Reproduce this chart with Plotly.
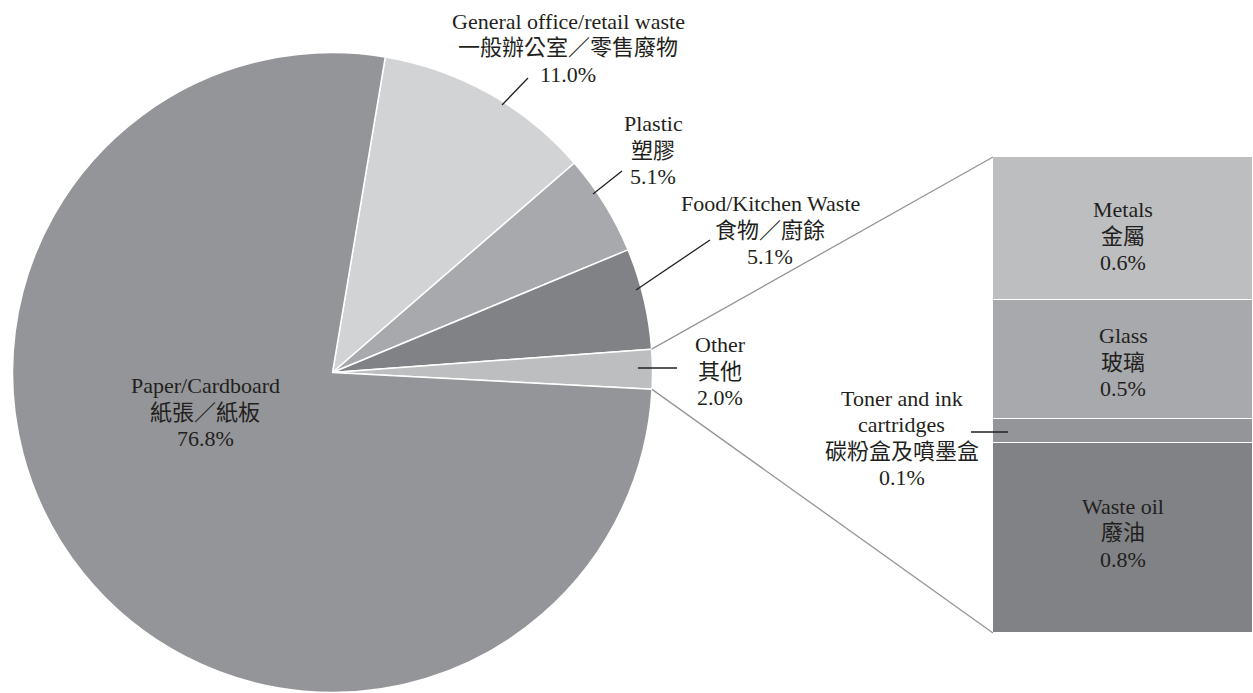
import math
import plotly.graph_objects as go

# ---------------- data ----------------
pie_en = ["General office/retail waste", "Plastic", "Food/Kitchen Waste", "Other", "Paper/Cardboard"]
pie_zh = ["一般辦公室／零售廢物", "塑膠", "食物／廚餘", "其他", "紙張／紙板"]
pie_values = [11.0, 5.1, 5.1, 2.0, 76.8]
pie_colors = ["#d1d3d4", "#a7a9ac", "#808285", "#bcbec0", "#939598"]

# "Other" breakdown, bottom to top
bar_en = ["Waste oil", "Toner and ink|cartridges", "Glass", "Metals"]
bar_zh = ["廢油", "碳粉盒及噴墨盒", "玻璃", "金屬"]
bar_values = [0.8, 0.1, 0.5, 0.6]
bar_colors = ["#808285", "#939598", "#a7a9ac", "#bcbec0"]

# ---------------- layout constants ----------------
OFF = 0                       # page body margin (removed via post_script)
W, H = 1253, 693
FONT = "Liberation Serif, 'Times New Roman', 'Noto Sans CJK TC', serif"
TXT = "#231f20"
FS = 22
LH = 26.5                      # line spacing in px
ROT = 9.5                      # start angle of first slice (deg clockwise from 12 o'clock)
CX, CY, R = 332.5, 372.5, 320  # pie centre/radius in window pixels
BAR_LEFT, BAR_TOP, BAR_BOT = 993, 157, 633
BAR_LABEL_DY = [-5, 0, 3, 8]   # vertical nudge (px, downward) of in-bar labels


def px(x):
    return (x - OFF) / W


def py(y):
    return 1 - (y - OFF) / H


fig = go.Figure()

fig.add_trace(go.Pie(
    values=pie_values,
    labels=pie_en,
    sort=False,
    direction="clockwise",
    rotation=ROT,
    marker=dict(colors=pie_colors, line=dict(color="white", width=1.5)),
    textinfo="none",
    textposition="none",
    hoverinfo="label+percent",
    domain=dict(x=[px(CX - R), px(CX + R)], y=[max(0, py(CY + R)), py(CY - R)]),
    showlegend=False,
))

for v, c, n in zip(bar_values, bar_colors, bar_en):
    fig.add_trace(go.Bar(
        x=[0], y=[v], width=1, name=n.replace("|", " "),
        marker=dict(color=c, line=dict(color="white", width=1.5)),
        xaxis="x", yaxis="y", showlegend=False,
    ))

total_other = sum(bar_values)

# ---------------- annotations (one per line for exact spacing) ----------------
annotations = []


def add_label(lines, x, y, xref="paper", yref="paper", dy=0):
    n = len(lines)
    for i, t in enumerate(lines):
        annotations.append(dict(
            x=x, y=y, xref=xref, yref=yref, text=t, showarrow=False,
            xanchor="center", yanchor="middle",
            yshift=-(i - (n - 1) / 2) * LH - dy,
            font=dict(family=FONT, size=FS, color=TXT)))


pie_label_pos = [(568, 48), (653, 150), (770, 230), (720, 371), (205, 412)]
for en, zh, v, (x, y) in zip(pie_en, pie_zh, pie_values, pie_label_pos):
    add_label(en.split("|") + [zh, f"{v:.1f}%"], px(x), py(y))

cum = 0
for en, zh, v, dy in zip(bar_en, bar_zh, bar_values, BAR_LABEL_DY):
    mid = cum + v / 2
    cum += v
    lines = en.split("|") + [zh, f"{v:.1f}%"]
    if v < 0.2:
        add_label(lines, px(902), py(438))
    else:
        add_label(lines, 0, mid, "x", "y", dy)

# ---------------- shapes ----------------
shapes = []
leaders = [((502, 105), (528, 78)), ((593, 194), (622, 171)), ((636, 290), (710, 240)),
           ((638, 368), (677, 368)), ((971, 432), (1008, 432))]
for (x0, y0), (x1, y1) in leaders:
    shapes.append(dict(type="line", xref="paper", yref="paper",
                       x0=px(x0), y0=py(y0), x1=px(x1), y1=py(y1),
                       line=dict(color="#231f20", width=1.3)))

# connector lines from "Other" slice to stacked bar
cumv = [0]
for v in pie_values:
    cumv.append(cumv[-1] + v)
tot = sum(pie_values)
i_other = pie_en.index("Other")
a_start = math.radians(ROT + 360 * cumv[i_other] / tot)
a_end = math.radians(ROT + 360 * cumv[i_other + 1] / tot)
for a, ybar in ((a_start, BAR_TOP), (a_end, BAR_BOT)):
    sx = CX + R * math.sin(a)
    sy = CY - R * math.cos(a)
    shapes.append(dict(type="line", xref="paper", yref="paper",
                       x0=px(sx), y0=py(sy), x1=px(BAR_LEFT), y1=py(ybar),
                       line=dict(color="#939598", width=1.3)))

fig.update_layout(
    width=W, height=H,
    margin=dict(l=0, r=0, t=0, b=0),
    paper_bgcolor="white", plot_bgcolor="white",
    barmode="stack", bargap=0,
    xaxis=dict(domain=[px(BAR_LEFT), 1], range=[-0.5, 0.5], visible=False, fixedrange=True),
    yaxis=dict(domain=[py(BAR_BOT), py(BAR_TOP)], range=[0, total_other], visible=False, fixedrange=True),
    annotations=annotations,
    shapes=shapes,
    showlegend=False,
    font=dict(family=FONT, color=TXT),
)

fig.write_html(
    "out.html",
    config={"displayModeBar": False},
    post_script=("document.body.style.margin='0';"
                 "document.documentElement.style.overflow='hidden';"
                 "document.body.style.overflow='hidden';"),
)
